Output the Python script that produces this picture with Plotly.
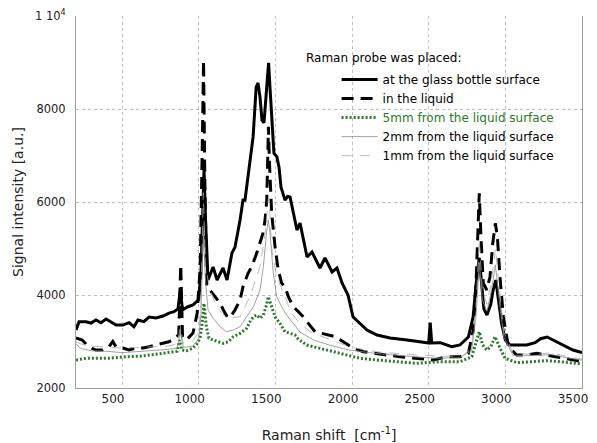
import plotly.graph_objects as go

# ---------------- data ----------------
glass_x = [200, 220, 265, 298, 330, 363, 396, 428, 461, 505, 546, 578, 604, 643, 676, 722, 767, 807, 839, 865, 880, 895, 930, 963, 1000, 1015, 1025, 1035, 1045, 1061, 1094, 1120, 1159, 1185, 1217, 1237, 1270, 1289, 1302, 1335, 1355, 1375, 1387, 1400, 1413, 1426, 1446, 1456, 1465, 1478, 1491, 1510, 1524, 1537, 1563, 1580, 1596, 1641, 1661, 1707, 1739, 1791, 1824, 1870, 1902, 1935, 1974, 2007, 2052, 2098, 2163, 2248, 2359, 2444, 2500, 2510, 2520, 2575, 2650, 2704, 2760, 2790, 2810, 2830, 2845, 2860, 2880, 2905, 2920, 2938, 2955, 2975, 3000, 3030, 3070, 3139, 3194, 3230, 3272, 3311, 3376, 3441, 3500]
glass_y = [3250, 3426, 3426, 3397, 3462, 3404, 3483, 3426, 3354, 3354, 3404, 3318, 3462, 3426, 3526, 3505, 3548, 3612, 3640, 3700, 4100, 3680, 3748, 3785, 3900, 4500, 5800, 6700, 5600, 4322, 4602, 4322, 4580, 4322, 4902, 5031, 5612, 6042, 6040, 6900, 7400, 8470, 8560, 8260, 7760, 7700, 8470, 8990, 8470, 7610, 7050, 6970, 6750, 6320, 6040, 6120, 6107, 5397, 5548, 4817, 4924, 4580, 4795, 4494, 4580, 4258, 4000, 3527, 3398, 3247, 3140, 3075, 3032, 2989, 2967, 3404, 2967, 2975, 2888, 2925, 3103, 3533, 4258, 4800, 4300, 3700, 3570, 3800, 4100, 4322, 3900, 3400, 3030, 2925, 2925, 2925, 2975, 3060, 3097, 3032, 2925, 2817, 2760]

liquid_x = [200, 240, 283, 330, 374, 415, 440, 461, 505, 546, 592, 637, 676, 722, 765, 807, 850, 870, 883, 895, 920, 963, 990, 1010, 1025, 1032, 1040, 1052, 1074, 1107, 1139, 1161, 1191, 1215, 1237, 1270, 1289, 1322, 1346, 1378, 1400, 1420, 1433, 1444, 1450, 1455, 1461, 1468, 1476, 1498, 1519, 1541, 1563, 1585, 1617, 1650, 1682, 1715, 1759, 1803, 1846, 1889, 1943, 2009, 2074, 2139, 2226, 2313, 2422, 2531, 2618, 2704, 2759, 2791, 2809, 2824, 2830, 2841, 2856, 2879, 2900, 2918, 2935, 2948, 2965, 2987, 3020, 3074, 3139, 3205, 3270, 3335, 3422, 3500]
liquid_y = [3075, 3032, 2888, 2817, 2817, 2888, 3000, 2888, 2860, 2817, 2860, 2860, 2888, 2925, 2960, 2995, 3075, 3150, 4650, 3100, 3032, 3183, 3600, 4600, 7500, 9050, 6500, 4180, 4107, 3963, 3828, 3677, 3505, 3570, 3677, 3892, 4178, 4466, 4608, 4896, 5111, 5333, 5612, 6042, 6902, 7618, 6902, 6200, 5762, 5040, 4537, 4257, 4178, 3963, 3748, 3641, 3533, 3390, 3211, 3175, 3140, 3103, 2995, 2853, 2780, 2745, 2710, 2673, 2639, 2602, 2673, 2673, 2745, 3247, 4250, 5684, 6186, 5254, 4257, 4107, 4393, 5111, 5541, 5254, 4393, 3533, 2888, 2710, 2710, 2745, 2710, 2673, 2616, 2566]

mm5_x = [200, 265, 415, 526, 635, 741, 831, 860, 875, 890, 920, 961, 994, 1010, 1022, 1035, 1050, 1067, 1095, 1128, 1161, 1193, 1226, 1270, 1313, 1335, 1357, 1378, 1400, 1422, 1439, 1454, 1476, 1498, 1530, 1563, 1596, 1628, 1650, 1705, 1791, 1878, 1965, 2052, 2161, 2270, 2422, 2574, 2704, 2781, 2809, 2830, 2852, 2879, 2905, 2933, 2961, 2998, 3074, 3183, 3270, 3357, 3498]
mm5_y = [2602, 2639, 2639, 2673, 2688, 2731, 2780, 2790, 3032, 2817, 2800, 2853, 2967, 3100, 3390, 3820, 3318, 3068, 3032, 2995, 2960, 2995, 3103, 3175, 3283, 3426, 3533, 3570, 3498, 3570, 3748, 3963, 3748, 3533, 3390, 3211, 3175, 3140, 3050, 2925, 2853, 2780, 2710, 2639, 2602, 2566, 2531, 2566, 2566, 2673, 2960, 3211, 2925, 2817, 2888, 3103, 2888, 2639, 2545, 2566, 2588, 2566, 2516]

mm2_x = [200, 230, 300, 400, 500, 600, 700, 800, 860, 880, 900, 960, 1000, 1015, 1030, 1045, 1061, 1095, 1139, 1182, 1226, 1270, 1313, 1357, 1400, 1422, 1444, 1454, 1465, 1487, 1509, 1541, 1574, 1617, 1661, 1750, 1850, 1980, 2150, 2400, 2550, 2700, 2780, 2810, 2830, 2850, 2880, 2910, 2935, 2960, 2990, 3050, 3200, 3300, 3400, 3500]
mm2_y = [2950, 2850, 2800, 2790, 2760, 2780, 2800, 2830, 2860, 3200, 2870, 2900, 3050, 3600, 5300, 4300, 3677, 3498, 3318, 3211, 3247, 3318, 3533, 3748, 4107, 4608, 5397, 5612, 5333, 4466, 3963, 3748, 3570, 3390, 3200, 3032, 2925, 2817, 2745, 2673, 2640, 2650, 2800, 3600, 4700, 3900, 3650, 4100, 4650, 3900, 3100, 2700, 2700, 2720, 2650, 2600]

mm1_x = [200, 230, 300, 400, 500, 600, 700, 800, 860, 880, 900, 960, 1000, 1015, 1030, 1045, 1074, 1117, 1183, 1270, 1335, 1400, 1433, 1446, 1455, 1465, 1476, 1509, 1574, 1596, 1661, 1726, 1813, 1922, 2030, 2161, 2422, 2600, 2720, 2780, 2810, 2830, 2850, 2880, 2910, 2935, 2960, 2990, 3050, 3200, 3300, 3400, 3500]
mm1_y = [3000, 2950, 2900, 2880, 2860, 2870, 2880, 2900, 2950, 3300, 2960, 3000, 3200, 3800, 6200, 4600, 4107, 3748, 3498, 3533, 3963, 4608, 5333, 5900, 6100, 5700, 5000, 4393, 3892, 3641, 3390, 3211, 3103, 2960, 2853, 2780, 2710, 2680, 2690, 2850, 3800, 5200, 4100, 3800, 4300, 5000, 4200, 3200, 2750, 2720, 2760, 2680, 2620]

y_tick_vals = [2000, 4000, 6000, 8000, 10000]
y_tick_text = ["2000", "4000", "6000", "8000", "1 10<sup>4</sup>"]
x_tick_vals = [500, 1000, 1500, 2000, 2500, 3000, 3500]

GREEN = "#2a7a2a"
FONT = "DejaVu Sans"

fig = go.Figure()
fig.add_trace(go.Scatter(x=glass_x, y=glass_y, mode="lines", name="at the glass bottle surface",
                         line=dict(color="black", width=3)))
fig.add_trace(go.Scatter(x=liquid_x, y=liquid_y, mode="lines", name="in the liquid",
                         line=dict(color="black", width=3, dash="12px,7px")))
fig.add_trace(go.Scatter(x=mm5_x, y=mm5_y, mode="lines",
                         name=f"<span style='color:{GREEN}'>5mm from the liquid surface</span>",
                         line=dict(color=GREEN, width=3, dash="2px,2px")))
fig.add_trace(go.Scatter(x=mm2_x, y=mm2_y, mode="lines", name="2mm from the liquid surface",
                         line=dict(color="#8a8a8a", width=0.8)))
fig.add_trace(go.Scatter(x=mm1_x, y=mm1_y, mode="lines", name="1mm from the liquid surface",
                         line=dict(color="#a8a8a8", width=0.8, dash="10px,8px")))

fig.add_annotation(text="Raman probe was placed:", xref="paper", yref="paper",
                   x=0.45, y=0.887, xanchor="left", yanchor="middle", showarrow=False,
                   font=dict(family=FONT, size=12, color="black"))

# page body has an 8px margin, so the figure is sized to fit the 597x443 window
fig.update_layout(
    width=589, height=435,
    margin=dict(l=68, r=15, t=8, b=55),
    paper_bgcolor="white", plot_bgcolor="white",
    font=dict(family=FONT, size=12, color="#222"),
    showlegend=True,
    legend=dict(x=0.515, y=0.868, xanchor="left", yanchor="top", bgcolor="rgba(0,0,0,0)",
                font=dict(family=FONT, size=12, color="black"), itemwidth=36,
                tracegroupgap=0),
    xaxis=dict(range=[200, 3500], tickvals=x_tick_vals, showgrid=True, automargin=False,
               gridcolor="#c0c0c0", griddash="dot", gridwidth=1,
               showline=True, linecolor="#a0a0a0", linewidth=1, zeroline=False,
               ticks="", ticklabelshift=-9,
               tickfont=dict(family=FONT, size=12, color="#222"),
               title=dict(text="Raman shift  [cm<sup>-1</sup>]", standoff=24,
                          font=dict(family=FONT, size=14, color="#222"))),
    yaxis=dict(range=[2000, 10000], tickvals=y_tick_vals, ticktext=y_tick_text, automargin=False,
               showgrid=True, gridcolor="#c0c0c0", griddash="dot", gridwidth=1,
               showline=True, linecolor="#a0a0a0", linewidth=1, mirror=True, zeroline=False,
               ticks="", ticklabelstandoff=7,
               tickfont=dict(family=FONT, size=11.5, color="#222"),
               title=dict(text="Signal intensity [a.u.]", standoff=8,
                          font=dict(family=FONT, size=14, color="#222"))),
)

fig.write_html("out.html")
